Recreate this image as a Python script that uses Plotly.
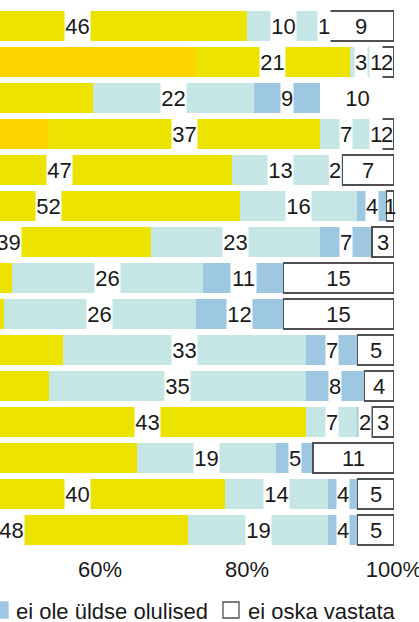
import plotly.graph_objects as go

# Statements, top to bottom (their names are cut off to the left in the source picture)
items = ["väide 1", "väide 2", "väide 3", "väide 4", "väide 5", "väide 6", "väide 7",
         "väide 8", "väide 9", "väide 10", "väide 11", "väide 12", "väide 13",
         "väide 14", "väide 15"]

# Shares in %, one list per answer
vaga_olulised = [34, 73, 25, 53, 31, 27, 28, 8, 9, 15, 13, 45, 20, 37, 24]
pigem_olulised = [46, 21, 34, 37, 47, 52, 39, 40, 38, 40, 40, 43, 45, 40, 48]
pigem_ei_ole = [10, 3, 22, 7, 13, 16, 23, 26, 26, 33, 35, 7, 19, 14, 19]
ei_ole_uldse = [1, 1, 9, 1, 2, 4, 7, 11, 12, 7, 8, 2, 5, 4, 4]
ei_oska = [9, 2, 10, 2, 7, 1, 3, 15, 15, 5, 4, 3, 11, 5, 5]

tick_values = [60, 80, 100]
tick_labels = ["60%", "80%", "100%"]

series = [
    ("väga olulised", vaga_olulised, "#FFD300"),
    ("pigem olulised", pigem_olulised, "#EDE300"),
    ("pigem ei ole olulised", pigem_ei_ole, "#C6E5E5"),
    ("ei ole üldse olulised", ei_ole_uldse, "#9EC8E1"),
    ("ei oska vastata", ei_oska, "white"),
]

FONT = "Liberation Sans, Arial, sans-serif"
TEXT = "#1a1a1a"
X_MIN = 46.4          # the picture only shows the right part of the bars
W, H = 419, 622
L, R, T, B = 0, 25, 8, 74

fig = go.Figure()

# the "can't say" box has a frame, except on row 3 where the source drew none
frame = ["#505050"] * len(items)
frame[2] = "white"

for name, values, color in series:
    boxed = name == "ei oska vastata"
    fig.add_trace(go.Bar(
        y=items, x=values, name=name, orientation="h",
        marker={'color': color,
                'line': {'color': frame if boxed else color, 'width': 1.3 if boxed else 0}},
        hoverinfo="x+name", showlegend=False))

# -------------
# value labels sit on a white patch that cuts the bar
start = [0] * len(items)
for name, values, color in series:
    boxed = name == "ei oska vastata"
    for i, v in enumerate(values):
        centre = start[i] + v / 2.0
        start[i] += v
        if centre < X_MIN:
            continue
        fig.add_annotation(
            x=centre, y=items[i], text=str(v), showarrow=False,
            font={'size': 22, 'color': TEXT, 'family': FONT},
            bgcolor="rgba(0,0,0,0)" if boxed else "white",
            width=12 if v < 10 else 25, height=None if boxed else 32,
            borderpad=0)

# -------------
# legend row (only its right end is in the picture)
pw, ph = W - L - R, H - T - B
def px(x):
    return (x - L) / pw
def py(y):
    return (H - B - y) / ph

legend = [("ei ole üldse olulised", "#9EC8E1", -8, "#9EC8E1", 14),
          ("ei oska vastata", "white", 223, "#505050", 246)]
for label, fill, x0, edge, tx in legend:
    fig.add_shape(type="rect", xref="paper", yref="paper",
                  x0=px(x0), x1=px(x0 + 16), y0=py(618), y1=py(602),
                  fillcolor=fill, line={'color': edge, 'width': 1.3})
    fig.add_annotation(text=label, xref="paper", yref="paper",
                       x=px(tx), y=py(611), xanchor="left", yanchor="middle",
                       showarrow=False,
                       font={'size': 22, 'color': TEXT, 'family': FONT})

fig.update_layout(
    width=W, height=H, margin={'l': L, 'r': R, 't': T, 'b': B},
    barmode="stack", bargap=6 / 36,
    plot_bgcolor="white", paper_bgcolor="white",
    showlegend=False,
    font={'family': FONT, 'color': TEXT})
fig.update_xaxes(range=[X_MIN, 100], tickvals=tick_values, ticktext=tick_labels,
                 showgrid=False, zeroline=False, showline=False, ticks="",
                 tickfont={'size': 22, 'color': TEXT, 'family': FONT},
                 ticklabelstandoff=6, ticklabeloverflow="allow",
                 automargin=False, fixedrange=True)
fig.update_yaxes(type="category", autorange="reversed", visible=False,
                 automargin=False, fixedrange=True)

fig.write_html("out.html", config={'displayModeBar': False},
               post_script="document.body.style.margin = '0';")
